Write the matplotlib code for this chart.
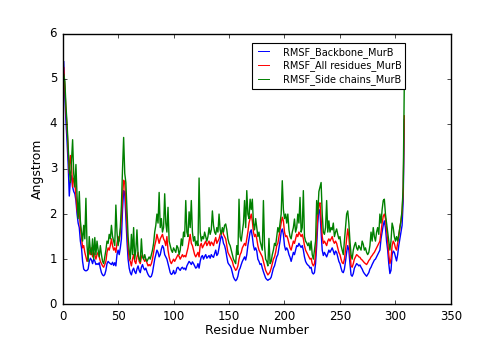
import matplotlib
matplotlib.use("Agg")
import matplotlib.pyplot as plt
import numpy as np

plt.style.use("classic")

# RMSF per residue (Angstrom)
backbone = [
    5.38, 4.60, 4.05, 3.60, 3.10, 2.40, 2.75, 2.85, 2.60, 2.50,
    2.45, 2.30, 2.00, 1.80, 1.70, 1.40, 1.25, 0.95, 0.78, 0.75,
    0.74, 0.75, 0.78, 0.95, 1.02, 0.98, 0.90, 1.00, 0.96, 0.88,
    0.90, 0.88, 0.92, 0.80, 0.70, 0.65, 0.63, 0.66, 0.75, 0.90,
    0.95, 0.92, 0.90, 0.88, 0.93, 0.86, 0.92, 0.85, 1.10, 1.20,
    1.10, 1.25, 1.45, 2.10, 2.52, 2.45, 1.90, 1.40, 1.00, 0.80,
    0.70, 0.65, 0.75, 0.80, 0.72, 0.68, 0.78, 0.85, 0.75, 0.70,
    0.82, 0.88, 0.80, 0.76, 0.80, 0.72, 0.66, 0.62, 0.60, 0.62,
    0.70, 0.85, 1.00, 1.10, 1.20, 1.15, 1.05, 1.10, 1.22, 1.30,
    1.25, 1.10, 1.05, 1.00, 0.90, 0.80, 0.70, 0.66, 0.68, 0.75,
    0.67, 0.70, 0.80, 0.82, 0.78, 0.75, 0.80, 0.82, 0.78, 0.80,
    0.76, 0.85, 0.90, 0.95, 0.92, 0.88, 0.94, 0.90, 0.85, 0.80,
    0.82, 0.90, 0.80, 0.95, 1.05, 1.08, 1.00, 1.06, 1.10, 1.02,
    1.05, 1.08, 1.02, 1.10, 1.06, 1.04, 1.12, 1.20, 1.08, 1.12,
    1.25, 1.40, 1.52, 1.48, 1.35, 1.30, 1.20, 1.05, 0.92, 0.88,
    0.85, 0.80, 0.70, 0.60, 0.55, 0.52, 0.55, 0.62, 0.75, 0.80,
    0.88, 0.95, 1.00, 1.05, 0.98, 1.10, 1.30, 1.45, 1.60, 1.65,
    1.50, 1.30, 1.20, 1.25, 1.18, 1.00, 0.95, 0.88, 0.90, 0.80,
    0.72, 0.65, 0.58, 0.55, 0.53, 0.55, 0.56, 0.60, 0.70, 0.80,
    0.85, 0.95, 1.05, 1.10, 1.25, 1.40, 1.60, 1.67, 1.55, 1.30,
    1.20, 1.25, 1.20, 1.10, 1.04, 0.95, 1.05, 1.15, 1.10, 1.20,
    1.30, 1.28, 1.35, 1.30, 1.26, 1.30, 1.20, 1.05, 0.95, 0.90,
    0.87, 0.85, 0.80, 0.82, 0.70, 0.67, 0.70, 0.90, 1.30, 1.80,
    2.10, 2.05, 1.60, 1.20, 1.08, 1.15, 1.10, 1.05, 1.12, 1.20,
    1.15, 1.20, 1.25, 1.18, 1.10, 1.18, 1.15, 1.05, 0.95, 0.90,
    0.80, 0.72, 0.70, 0.78, 0.95, 1.15, 1.30, 1.20, 0.90, 0.65,
    0.62, 0.68, 0.80, 0.85, 0.90, 0.88, 0.85, 0.87, 0.82, 0.78,
    0.72, 0.68, 0.65, 0.62, 0.66, 0.70, 0.78, 0.82, 0.88, 0.93,
    0.98, 1.00, 1.05, 1.10, 1.15, 1.20, 1.45, 1.60, 1.75, 1.85,
    1.70, 1.40, 1.20, 0.90, 0.68, 0.75, 1.10, 1.18, 1.15, 1.05,
    0.96, 1.10, 1.30, 1.45, 1.60, 1.75, 2.30, 4.10,
]

all_residues = [
    5.25, 4.80, 4.30, 3.90, 3.40, 2.90, 3.30, 3.10, 2.60, 2.80,
    2.70, 2.40, 2.10, 1.95, 2.10, 1.70, 1.50, 1.25, 1.30, 1.15,
    1.05, 0.95, 1.05, 1.20, 1.10, 1.25, 1.05, 1.15, 1.10, 1.00,
    1.10, 1.15, 1.05, 0.95, 0.90, 0.85, 0.82, 0.88, 0.95, 1.15,
    1.25, 1.20, 1.30, 1.45, 1.30, 1.20, 1.25, 1.15, 1.35, 1.50,
    1.40, 1.60, 1.90, 2.40, 2.75, 2.70, 2.20, 1.70, 1.25, 1.00,
    0.95, 0.85, 1.00, 1.10, 0.95, 0.90, 1.05, 1.15, 0.95, 0.90,
    1.05, 1.10, 1.00, 0.95, 1.00, 0.92, 0.85, 0.88, 0.85, 0.90,
    1.00, 1.15, 1.30, 1.40, 1.55, 1.45, 1.35, 1.45, 1.50, 1.55,
    1.45, 1.40, 1.30, 1.50, 1.20, 1.05, 0.95, 0.90, 0.95, 1.00,
    0.95, 1.00, 1.05, 1.10, 1.06, 1.00, 1.05, 1.10, 1.05, 1.08,
    1.05, 1.15, 1.25, 1.40, 1.55, 1.35, 1.30, 1.20, 1.10, 1.05,
    1.10, 1.15, 1.05, 1.30, 1.35, 1.25, 1.30, 1.35, 1.40, 1.30,
    1.35, 1.40, 1.30, 1.38, 1.35, 1.30, 1.40, 1.48, 1.35, 1.40,
    1.45, 1.55, 1.60, 1.65, 1.55, 1.50, 1.45, 1.30, 1.15, 1.10,
    1.05, 1.00, 0.95, 0.85, 0.80, 0.75, 0.78, 0.85, 1.00, 1.10,
    1.15, 1.25, 1.30, 1.35, 1.30, 1.45, 1.60, 1.80, 1.90, 2.00,
    1.85, 1.60, 1.50, 1.55, 1.45, 1.30, 1.20, 1.15, 1.10, 1.05,
    0.95, 0.85, 0.75, 0.70, 0.65, 0.68, 0.72, 0.80, 0.90, 1.00,
    1.05, 1.15, 1.30, 1.35, 1.50, 1.65, 1.80, 1.93, 1.85, 1.60,
    1.50, 1.52, 1.45, 1.35, 1.25, 1.20, 1.30, 1.40, 1.35, 1.45,
    1.55, 1.50, 1.60, 1.55, 1.50, 1.55, 1.45, 1.30, 1.20, 1.15,
    1.10, 1.05, 1.00, 1.02, 0.90, 0.85, 0.90, 1.10, 1.55, 2.00,
    2.20, 2.25, 1.90, 1.50, 1.35, 1.40, 1.35, 1.30, 1.40, 1.45,
    1.40, 1.45, 1.50, 1.40, 1.35, 1.40, 1.35, 1.25, 1.15, 1.10,
    1.00, 0.92, 0.90, 1.00, 1.20, 1.45, 1.67, 1.50, 1.15, 0.85,
    0.82, 0.90, 1.00, 1.05, 1.10, 1.08, 1.05, 1.04, 1.00, 0.98,
    0.95, 0.92, 0.90, 0.88, 0.92, 0.97, 1.00, 1.05, 1.08, 1.12,
    1.15, 1.20, 1.25, 1.30, 1.35, 1.40, 1.60, 1.80, 1.95, 2.00,
    1.90, 1.65, 1.40, 1.10, 0.90, 1.00, 1.30, 1.40, 1.35, 1.25,
    1.20, 1.35, 1.50, 1.70, 1.85, 2.05, 2.50, 4.18,
]

side_chains = [
    5.10, 4.95, 4.40, 4.00, 3.50, 3.00, 2.70, 3.20, 3.65, 2.90,
    2.60, 3.10, 2.40, 1.90, 2.50, 1.85, 1.60, 1.40, 1.75, 1.45,
    2.35, 1.30, 0.95, 1.50, 1.20, 1.10, 1.45, 1.00, 1.48, 1.10,
    1.40, 1.20, 1.05, 1.30, 1.10, 0.95, 0.90, 1.05, 1.20, 1.40,
    1.35, 1.55, 1.45, 1.75, 1.50, 1.40, 1.30, 2.20, 1.60, 1.30,
    1.45, 1.70, 2.20, 3.00, 3.70, 2.90, 2.70, 2.10, 1.50, 1.20,
    1.00, 1.55, 1.10, 1.70, 1.00, 1.20, 1.65, 1.10, 1.00, 0.95,
    1.45, 1.05, 1.00, 1.10, 1.00, 0.95, 1.00, 1.05, 1.00, 1.10,
    1.20, 1.35, 1.60, 1.75, 2.00, 1.80, 2.48, 1.70, 1.90, 1.60,
    1.70, 2.45, 1.80, 1.60, 2.15, 1.40, 1.30, 1.20, 1.15, 1.25,
    1.20, 1.15, 1.30, 1.25, 1.10, 1.20, 1.45, 1.30, 1.60, 1.50,
    2.30, 1.60, 1.50, 2.05, 1.70, 2.30, 1.60, 1.40, 1.50, 1.30,
    1.40, 1.30, 2.80, 1.60, 1.40, 1.50, 1.45, 1.60, 1.50, 1.40,
    1.50, 1.70, 1.55, 1.65, 2.07, 1.75, 1.60, 1.55, 1.70, 1.60,
    2.00, 1.65, 1.55, 1.70, 1.60, 1.75, 1.78, 1.65, 1.45, 1.35,
    1.30, 1.20, 1.10, 1.00, 0.95, 0.90, 1.30, 1.10, 2.33, 1.50,
    1.40, 1.60, 1.80, 2.30, 1.70, 2.52, 2.00, 1.90, 2.33, 2.10,
    2.33, 1.80, 1.65, 1.90, 1.70, 1.50, 1.60, 1.40, 1.30, 1.20,
    2.30, 1.30, 1.00, 0.95, 0.85, 1.46, 0.90, 0.95, 1.10, 1.20,
    1.35, 1.30, 1.50, 1.70, 1.60, 1.80, 2.00, 2.74, 2.10, 1.90,
    2.00, 1.80, 2.00, 1.65, 1.50, 1.45, 1.60, 1.70, 1.89, 1.60,
    1.70, 2.00, 1.80, 2.37, 1.60, 1.70, 2.52, 1.50, 1.40, 1.36,
    1.30, 1.36, 1.20, 1.40, 1.10, 1.00, 1.20, 1.40, 2.30, 2.00,
    2.50, 2.60, 2.70, 2.00, 1.60, 1.55, 1.70, 2.30, 1.60, 1.85,
    1.60, 1.70, 1.65, 1.80, 1.50, 1.60, 1.67, 1.55, 1.45, 1.50,
    1.30, 1.20, 1.10, 1.40, 1.67, 2.00, 2.07, 1.80, 1.40, 1.10,
    1.00, 1.20, 1.30, 1.37, 1.25, 1.20, 1.30, 1.25, 1.20, 1.40,
    1.33, 1.20, 1.25, 1.15, 1.10, 1.15, 1.30, 1.60, 1.40, 1.70,
    1.50, 1.40, 1.60, 1.70, 1.55, 2.00, 1.80, 2.10, 2.30, 2.33,
    2.00, 1.80, 1.60, 1.40, 1.20, 1.40, 1.80, 1.70, 1.50, 1.40,
    1.50, 1.40, 1.55, 1.70, 1.85, 2.10, 2.60, 4.93,
]

residues = np.arange(1, len(backbone) + 1)

fig = plt.figure(figsize=(5.01, 3.38), dpi=100)
ax = fig.add_axes([0.125, 0.1, 0.775, 0.8])

ax.plot(residues, backbone, color="b", lw=1.0, label="RMSF_Backbone_MurB")
ax.plot(residues, all_residues, color="r", lw=1.0, label="RMSF_All residues_MurB")
ax.plot(residues, side_chains, color="g", lw=1.0, label="RMSF_Side chains_MurB")

ax.set_xlim(0, 350)
ax.set_ylim(0, 6)
ax.set_xticks(range(0, 351, 50))
ax.set_yticks(range(0, 7))
ax.tick_params(labelsize=8.5, length=3)
ax.set_xlabel("Residue Number", fontsize=9, labelpad=1)
ax.set_ylabel("Angstrom", fontsize=9, labelpad=4)

leg = ax.legend(loc="upper right", bbox_to_anchor=(0.895, 0.985), fontsize=7,
                handlelength=1.7, handletextpad=1.1, borderpad=0.4,
                labelspacing=0.3, fancybox=False)
leg.get_frame().set_linewidth(0.8)
for line in leg.get_lines():
    line.set_linewidth(0.7)

fig.savefig("out.png", dpi=100)
